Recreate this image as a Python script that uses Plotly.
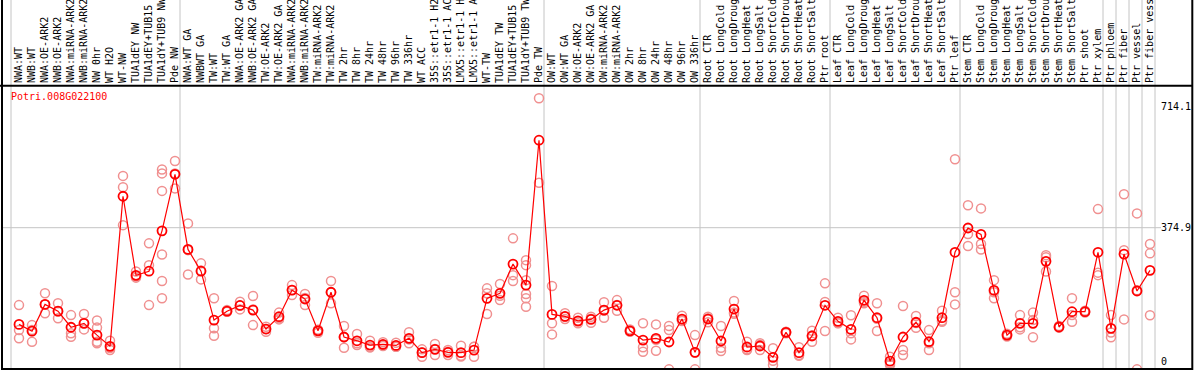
import plotly.graph_objects as go

# ---------------- data ----------------
gene_id = "Potri.008G022100"

categories = [
    "NWA:WT", "NWB:WT", "NWA:OE-ARK2", "NWB:OE-ARK2", "NWA:miRNA-ARK2",
    "NWB:miRNA-ARK2", "NW 0hr", "WT H2O", "WT-NW", "TUA1dEY NW",
    "TUA1dEY+TUB15 NW", "TUA1dY+TUB9 NW", "Pde NW",
    "NWA:WT GA", "NWBWT GA", "TW:WT", "TW:WT GA", "NWA:OE-ARK2 GA",
    "NWB:OE-ARK2 GA", "TW:OE-ARK2", "TW:OE-ARK2 GA", "NWA:miRNA-ARK2 GA",
    "NWB:miRNA-ARK2 GA", "TW:miRNA-ARK2", "TW:miRNA-ARK2 GA", "TW 2hr",
    "TW 8hr", "TW 24hr", "TW 48hr", "TW 96hr", "TW 336hr", "WT ACC",
    "35S::etr1-1 H2O", "35S::etr1-1 ACC", "LMX5::etr1-1 H2O",
    "LMX5::etr1-1 ACC", "WT-TW", "TUA1dEY TW", "TUA1dEY+TUB15 TW",
    "TUA1dY+TUB9 TW", "Pde TW",
    "OW:WT", "OW:WT GA", "OW:OE-ARK2", "OW:OE-ARK2 GA", "OW:miRNA-ARK2",
    "OW:miRNA-ARK2 GA", "OW 2hr", "OW 8hr", "OW 24hr", "OW 48hr", "OW 96hr",
    "OW 336hr",
    "Root CTR", "Root LongCold", "Root LongDrought", "Root LongHeat",
    "Root LongSalt", "Root ShortCold", "Root ShortDrought", "Root ShortHeat",
    "Root ShortSalt", "Ptr root",
    "Leaf CTR", "Leaf LongCold", "Leaf LongDrought", "Leaf LongHeat",
    "Leaf LongSalt", "Leaf ShortCold", "Leaf ShortDrought", "Leaf ShortHeat",
    "Leaf ShortSalt", "Ptr leaf",
    "Stem CTR", "Stem LongCold", "Stem LongDrought", "Stem LongHeat",
    "Stem LongSalt", "Stem ShortCold", "Stem ShortDrought", "Stem ShortHeat",
    "Stem ShortSalt", "Ptr shoot", "Ptr xylem",
    "Ptr phloem", "Ptr fiber", "Ptr vessel", "Ptr fiber vessel",
]

mean_values = [
    104, 85, 160, 141, 96, 107, 74, 42.5, 463, 241.5,
    253, 366, 524.5, 314, 253, 116, 141, 157, 144, 91,
    125.5, 200, 175, 86, 194, 68.6, 58, 46, 48, 45,
    65, 24.7, 34, 25.6, 24.7, 32, 177, 191, 273, 214,
    620, 132, 126.6, 114, 118, 144, 157.5, 86, 60, 65,
    54.6, 119, 25.6, 119, 57.4, 147, 40.6, 43.4, 11.7, 81.8,
    24.7, 71.4, 157.5, 112.6, 90, 171.5, 122.7, 1, 68.6, 110,
    55.5, 122.7, 306, 374, 356, 199.5, 74, 107, 107, 280.7,
    96.7, 139.5, 139.5, 306, 93, 301, 197.5, 255.5,
]

replicates = [
    [158, 88, 65], [102, 88, 55], [191, 160, 135], [163, 140, 121],
    [130, 79, 69.5], [133, 107, 90], [115, 95, 55, 51], [58, 32, 38],
    [520, 488, 382], [252, 238, 235], [331, 270, 158],
    [538, 527, 478, 300, 225.5, 177], [562, 485, 527],
    [387, 244, 312], [275, 230, 255], [177, 93, 72], [144, 139.5, 140],
    [167.5, 146, 157], [183.5, 102, 146], [97.5, 83.5, 91], [137, 121, 118],
    [214, 186, 200], [189, 158, 178], [88, 80.7, 89], [225.5, 163, 194],
    [99.5, 38.7, 68], [77, 51, 46], [58, 40, 40], [54, 43.4, 47],
    [52.7, 41.5, 41], [82, 51, 62], [34, 13.5, 26], [49, 18, 35],
    [32, 18, 27], [44, 16, 14], [41.5, 13.5, 41], [205, 191, 133],
    [217, 172, 184], [345, 242, 225.5], [284, 270, 228, 189, 177, 153.5],
    [737.5, 501],
    [211.5, 107, 76], [135, 125.5, 119], [122.7, 107, 112],
    [125.5, 108.7, 120], [166, 122.7, 143], [172, 142, 158], [90, 84, 84],
    [107, 40, 27.5], [104, 30, 61], [99.5, 88, -22], [128, 113.5, 115],
    [74, -22, 25],
    [125.5, 110, 121], [99.5, 38.7, 29.4], [169.5, 137, 134],
    [55.5, 32, 34], [51, 32, 47], [37, 2, -10], [83.5, 79, 83],
    [40, 18, 16], [86, 55.5, 73], [219, 166.7, 85.5],
    [122.7, 107, 108], [129.5, 79, 62], [184, 163, 167], [163, 85.5, 120],
    [13.5, -5, -10], [155.5, 32, 18], [127.5, 94.7, 108], [88, 51, 32],
    [142, 111.5, 114], [566.5, 194, 160],
    [437.6, 357, 323.6], [429, 329, 314], [228, 177, 194], [78, 74, 70],
    [130, 96, 90], [137, 116, 68], [298, 252, 292], [99.5, 96, 95],
    [177, 111.5, 130], [142, 139, 137], [427, 249, 242],
    [130, 68, 81], [468.5, 312, 118], [415, -22, 199.5], [329, 303, 129.5],
]

group_ends = [0, 13, 41, 53, 63, 73, 84, 85, 86, 87, 88]
y_ticks = [0, 374.9, 714.1]

# ---------------- layout geometry ----------------
W, H = 1194, 370
L, R, T, B = 2, 34, 86, 1
pw, ph = W - L - R, H - T - B
step = 13.0
x_range = [1 - 17 / step, 1 - 17 / step + pw / step]
y_range = [-21.0, 771.9]


def px_x(px):
    return (px - L) / pw


def px_y(py):
    return (T + ph - py) / ph


def dx_paper(v):
    return (v - x_range[0]) / (x_range[1] - x_range[0])


def dy_paper(v):
    return (v - y_range[0]) / (y_range[1] - y_range[0])


x_idx = list(range(1, len(categories) + 1))
rep_x, rep_y = [], []
for i, reps in enumerate(replicates):
    for r in reps:
        rep_x.append(i + 1)
        rep_y.append(r)

mono = "DejaVu Sans Mono"

fig = go.Figure()
fig.add_trace(go.Scatter(
    x=rep_x, y=rep_y, mode="markers",
    marker=dict(symbol="circle-open", size=9, color="#f09090",
                line=dict(width=1.5, color="#f09090")),
    hoverinfo="skip",
))
fig.add_trace(go.Scatter(
    x=x_idx, y=mean_values, mode="lines+markers",
    line=dict(color="#ff0000", width=1.2),
    marker=dict(symbol="circle-open", size=9, color="#ff0000",
                line=dict(width=1.8, color="#ff0000")),
))

shapes = []
for g in group_ends:
    xp = dx_paper(g + 0.385)
    shapes.append(dict(type="line", xref="paper", yref="paper",
                       x0=xp, x1=xp, y0=px_y(369), y1=px_y(0),
                       line=dict(color="#c4c4c4", width=1), layer="below"))
yp = dy_paper(y_ticks[1])
shapes.append(dict(type="line", xref="paper", yref="paper",
                   x0=px_x(2), x1=px_x(1161), y0=yp, y1=yp,
                   line=dict(color="#c4c4c4", width=1), layer="below"))
# frame
frame = [
    (0, 85.7, 1193, 85.7),
    (2, 369, 1193, 369),
    (2, 0, 2, 370),
    (1192.3, 0, 1192.3, 370),
]
for x0, y0, x1, y1 in frame:
    shapes.append(dict(type="line", xref="paper", yref="paper",
                       x0=px_x(x0), x1=px_x(x1), y0=px_y(y0), y1=px_y(y1),
                       line=dict(color="black", width=2), layer="above"))

fig.update_layout(
    width=W, height=H,
    margin=dict(l=L, r=R, t=T, b=B, pad=0),
    plot_bgcolor="white", paper_bgcolor="white",
    showlegend=False,
    xaxis=dict(range=x_range, side="top", tickmode="array", tickvals=x_idx,
               ticktext=categories, tickangle=-90, ticks="", showgrid=False,
               zeroline=False, showline=False, automargin=False,
               ticklabelstandoff=2,
               tickfont=dict(family=mono, size=10, color="black")),
    yaxis=dict(range=y_range, side="right", tickmode="array", tickvals=y_ticks,
               ticktext=[f"{v:g}" for v in y_ticks], ticks="", showgrid=False,
               zeroline=False, showline=False, automargin=False,
               tickfont=dict(family=mono, size=10, color="black")),
    shapes=shapes,
    annotations=[dict(text=gene_id, xref="paper", yref="paper",
                      x=px_x(9), y=px_y(96.7), xanchor="left", yanchor="middle",
                      showarrow=False,
                      font=dict(family=mono, size=10, color="#ff0000"))],
)

fig.write_html(
    "out.html",
    config={"displayModeBar": False},
    post_script="document.body.style.margin='0';document.body.style.overflow='hidden';",
)
